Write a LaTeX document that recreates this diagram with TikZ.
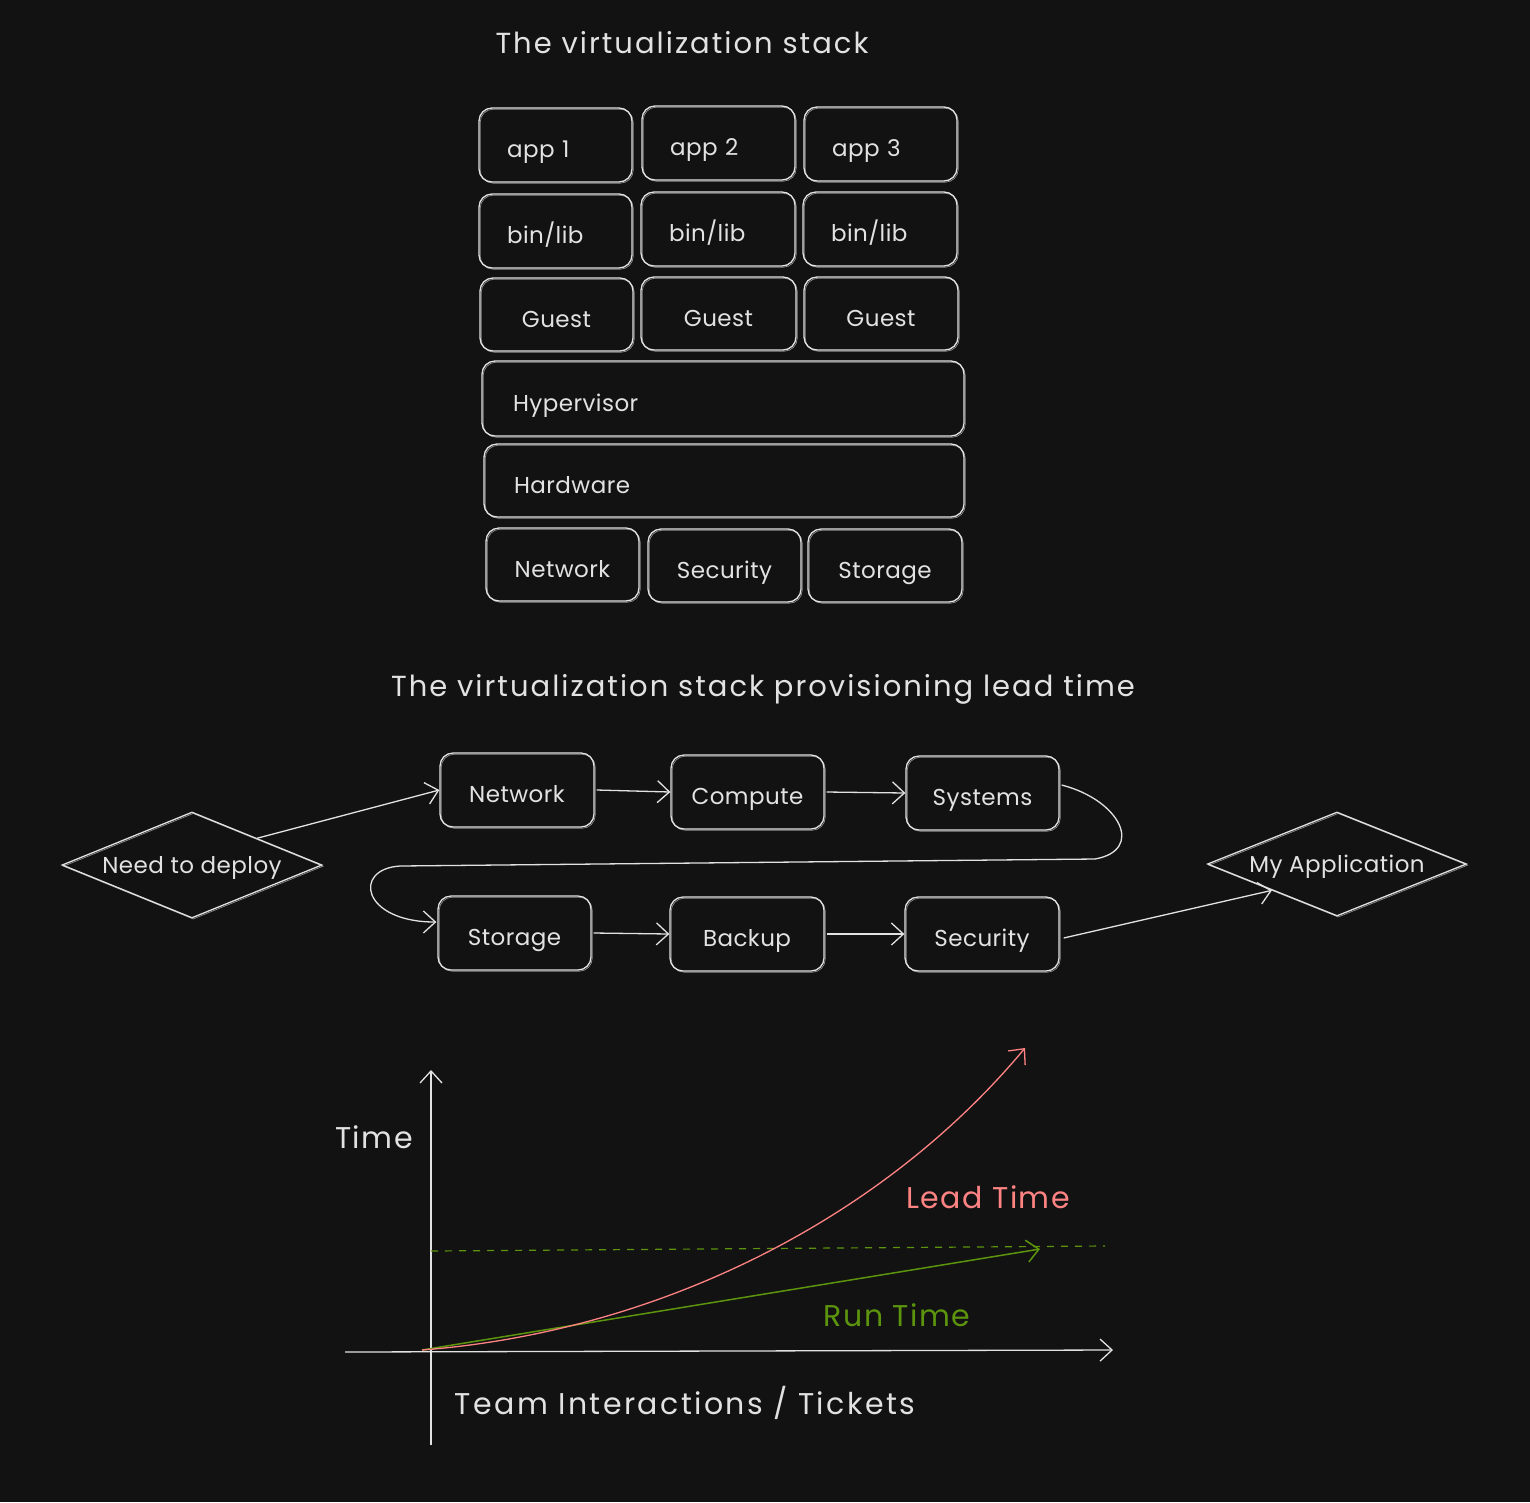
\documentclass[tikz,border=0pt]{standalone}
\usepackage{fontspec}
\setmainfont{Poppins}
\usetikzlibrary{arrows.meta,shapes.geometric}
\definecolor{bg}{HTML}{121212}
\definecolor{ink}{HTML}{E2E2E2}
\definecolor{leadred}{HTML}{FF8383}
\definecolor{rungreen}{HTML}{5C940D}
\newcommand{\boxfont}{\fontsize{23}{27}\selectfont\addfontfeature{LetterSpace=2}}
\newcommand{\titlefont}{\fontsize{29}{34}\selectfont\addfontfeature{LetterSpace=7}}
\newcommand{\chartfont}{\fontsize{30}{35}\selectfont\addfontfeature{LetterSpace=5}}
\tikzset{
  sketch/.style={postaction={draw=ink, line width=0.7pt, opacity=0.6, transform canvas={shift={(1.2pt,-1.2pt)}}}},
  box/.style={draw=ink, line width=1.3pt, rounded corners=13pt, inner sep=0pt, text=ink, font=\boxfont, text height=25pt, text depth=0pt, minimum width=153pt, minimum height=74pt, sketch},
  lbox/.style={box, align=left, inner xsep=28pt, text width=97pt},
  dia/.style={diamond, draw=ink, line width=1.3pt, inner sep=0pt, aspect=2.45, text=ink, font=\boxfont, text height=16pt, text depth=0pt, sketch},
  title/.style={text=ink, font=\titlefont, inner sep=0pt},
  clabel/.style={font=\chartfont, inner sep=0pt},
  arr/.style={draw=ink, line width=1.3pt, -{Straight Barb[length=12pt,width=22pt]}},
}
\begin{document}
\begin{tikzpicture}[x=1pt,y=-1pt]
\fill[bg] (0,0) rectangle (1530,1502);
\useasboundingbox (0,0) rectangle (1530,1502);

% ---- virtualization stack ----
\node[title] (t1) at (682,43) {The virtualization stack};

\node[lbox] (app1) at (555.5,145) {app 1};
\node[lbox] (app2) at (718.5,143) {app 2};
\node[lbox] (app3) at (880.5,144) {app 3};

\node[lbox] (bin1) at (555.5,231) {bin/lib};
\node[lbox, text width=98pt] (bin2) at (718,229) {bin/lib};
\node[lbox, text width=98pt] (bin3) at (880,229) {bin/lib};

\node[box, minimum height=73pt] (g1) at (556.5,314.5) {Guest};
\node[box, minimum height=73pt, minimum width=155pt] (g2) at (718.5,313.5) {Guest};
\node[box, minimum height=73pt, minimum width=154pt] (g3) at (881,313.5) {Guest};

\node[lbox, inner xsep=31pt, text width=420pt, minimum height=75pt] (hyp) at (723,398.5) {Hypervisor};
\node[lbox, inner xsep=30pt, text width=420pt, minimum height=73pt] (hw) at (724,480.5) {Hardware};

\node[box, minimum height=73pt] (snet) at (562.5,564.5) {Network};
\node[box, minimum height=73pt] (ssec) at (724.5,565.5) {Security};
\node[box, minimum height=73pt, minimum width=154pt] (ssto) at (885,565.5) {Storage};

% ---- provisioning lead time ----
\node[title] (t2) at (763,689) {The virtualization stack provisioning lead time};

\node[dia, minimum width=260pt, minimum height=106pt] (need) at (192,865) {Need to deploy};
\node[box, minimum width=154pt] (fnet) at (517,790) {Network};
\node[box] (fcomp) at (747.5,792) {Compute};
\node[box] (fsys) at (982.5,793) {Systems};
\node[box] (fsto) at (514.5,933) {Storage};
\node[box, minimum width=154pt] (fbak) at (747,934) {Backup};
\node[box, minimum width=154pt] (fsec) at (982,934) {Security};
\node[dia, minimum width=259pt, minimum height=104pt] (myapp) at (1337,864) {My Application};

\draw[arr] (need.north east) -- (fnet.west);
\draw[arr] ([xshift=2pt]fnet.east) -- (fcomp.west);
\draw[arr] ([xshift=2pt]fcomp.east) -- (fsys.west);
\draw[arr] ([xshift=2pt,yshift=8pt]fsys.east) .. controls (1120,800) and (1145,850) .. (1095,859)
  -- (400,866) .. controls (352,869) and (362,922) .. ([xshift=-1pt,yshift=11pt]fsto.west);
\draw[arr] ([xshift=2pt]fsto.east) -- (fbak.west);
\draw[arr] ([xshift=2pt]fbak.east) -- (fsec.west);
\draw[arr] ([xshift=4pt,yshift=-4pt]fsec.east) -- (myapp.south west);

% ---- chart ----
\coordinate (ybot) at (431,1445);
\coordinate (ytop) at (431,1070);
\coordinate (xl) at (345,1352);
\coordinate (xr) at (1113,1350);
\coordinate (orig) at (422,1350);
\coordinate (leadend) at (1025,1048);
\coordinate (runend) at (1040,1249);
\coordinate (dashl) at (431,1251);
\coordinate (dashr) at (1105,1246);

\draw[arr] (ybot) -- (ytop);
\draw[arr] (xl) -- (xr);
\draw[rungreen, line width=1.2pt, dash pattern=on 7pt off 7pt] (dashl) -- (dashr);
\draw[rungreen, line width=1.5pt, -{Straight Barb[length=12pt,width=22pt]}] (orig) -- (runend);
\draw[leadred, line width=1.3pt, -{Straight Barb[length=12pt,width=22pt]}] (orig) .. controls (655,1332) and (880,1222) .. (leadend);

\node[clabel, text=ink] (ytime) at (374,1137) {Time};
\node[clabel, text=ink, font=\chartfont\addfontfeature{LetterSpace=8}] (xlab) at (685,1403) {Team Interactions / Tickets};
\node[clabel, text=leadred] (leadlab) at (988,1197) {Lead Time};
\node[clabel, text=rungreen] (runlab) at (897,1315) {Run Time};
\end{tikzpicture}
\end{document}
